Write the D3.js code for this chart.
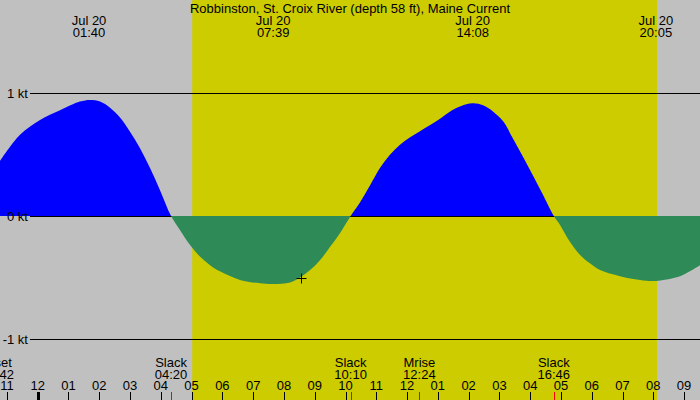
<!DOCTYPE html>
<html><head><meta charset="utf-8">
<script src="https://cdn.jsdelivr.net/npm/d3@7"></script>
<style>html,body{margin:0;padding:0;background:#c0c0c0;}svg{display:block;}</style>
</head><body>
<svg id="c" width="700" height="400"></svg>
<script>
const title = "Robbinston, St. Croix River (depth 58 ft), Maine Current";
// time in hours from Jul 20 00:00, current in knots
const times = [-1.225,-0.575,0.075,0.725,1.374,1.699,2.024,2.349,2.674,2.999,3.324,3.649,3.973,4.333,
  4.62,4.95,5.27,5.60,5.92,6.57,7.22,7.65,8.20,8.52,8.85,9.17,9.50,9.82,10.167,
  10.47,10.80,11.12,11.45,11.77,12.10,12.42,12.75,13.07,13.40,13.72,14.133,14.47,14.79,15.12,15.44,15.77,16.09,16.42,16.767,
  16.97,17.29,17.62,17.94,18.27,18.92,19.57,20.083,20.87,21.19,21.52];
const knots = [0.447,0.66,0.78,0.86,0.93,0.943,0.93,0.88,0.80,0.685,0.55,0.39,0.21,0,
  -0.114,-0.236,-0.33,-0.40,-0.45,-0.52,-0.547,-0.553,-0.54,-0.50,-0.44,-0.36,-0.25,-0.14,0,
  0.11,0.25,0.39,0.50,0.58,0.64,0.69,0.74,0.79,0.85,0.89,0.916,0.90,0.85,0.77,0.63,0.48,0.33,0.17,0,
  -0.073,-0.21,-0.317,-0.385,-0.44,-0.49,-0.52,-0.528,-0.49,-0.45,-0.40];
const yTicks = [1, 0, -1];
const yTickLabels = ["1 kt", "0 kt", "-1 kt"];
const topTimes = [1.667, 7.65, 14.133, 20.083];
const topLabels = [["Jul 20","01:40"],["Jul 20","07:39"],["Jul 20","14:08"],["Jul 20","20:05"]];
const eventTimes = [-1.3, 4.333, 10.167, 12.4, 16.767];
const eventLabels = [["Mset","22:42"],["Slack","04:20"],["Slack","10:10"],["Mrise","12:24"],["Slack","16:46"]];
const sunrise = 5.02, sunset = 20.12;
const hourTicks = d3.range(-1, 22);
const marker = {t: 8.55, v: -0.505};

const svg = d3.select("#c");
const W = 700, H = 400;
const x = d3.scaleLinear().domain([0, 20]).range([37.7, 653.3]);
const y = d3.scaleLinear().domain([-1, 1]).range([339, 93]);
const font = "'Liberation Sans', Arial, sans-serif";
const fs = 13;

svg.append("rect").attr("width", W).attr("height", H).attr("fill", "#c0c0c0");
svg.append("rect").attr("x", x(sunrise)).attr("y", 0).attr("width", x(sunset) - x(sunrise)).attr("height", H).attr("fill", "#cccc00");

const defs = svg.append("defs");
defs.append("clipPath").attr("id", "above").append("rect").attr("x", 0).attr("y", 0).attr("width", W).attr("height", y(0));
defs.append("clipPath").attr("id", "below").append("rect").attr("x", 0).attr("y", y(0)).attr("width", W).attr("height", H - y(0));

const data = times.map((t, i) => ({t, v: knots[i]}));
const area = d3.area().x(d => x(d.t)).y0(y(0)).y1(d => y(d.v)).curve(d3.curveCatmullRom.alpha(0.5));
svg.append("path").datum(data).attr("d", area).attr("fill", "#0000ff").attr("clip-path", "url(#above)");

// horizontal grid lines
yTicks.forEach((v, i) => {
  svg.append("line").attr("x1", 30).attr("x2", W).attr("y1", y(v)).attr("y2", y(v))
    .attr("stroke", "#000").attr("stroke-width", 1).attr("shape-rendering", "crispEdges");
  svg.append("text").attr("x", 28).attr("y", y(v) + 5).attr("text-anchor", "end")
    .attr("font-family", font).attr("font-size", fs).attr("fill", "#000").text(yTickLabels[i]);
});
svg.append("path").datum(data).attr("d", area).attr("fill", "#2e8b57").attr("clip-path", "url(#below)");

// marker
const mx = Math.round(x(marker.t)) + 0.5, my = Math.round(y(marker.v)) + 0.5;
svg.append("line").attr("x1", mx - 5).attr("x2", mx + 5).attr("y1", my).attr("y2", my).attr("stroke", "#000");
svg.append("line").attr("x1", mx).attr("x2", mx).attr("y1", my - 5).attr("y2", my + 5).attr("stroke", "#000");

// title
svg.append("text").attr("x", 350).attr("y", 13).attr("text-anchor", "middle")
  .attr("font-family", font).attr("font-size", fs).attr("fill", "#000").text(title);

// top labels
topTimes.forEach((t, i) => {
  topLabels[i].forEach((s, j) => {
    svg.append("text").attr("x", x(t)).attr("y", 25 + j * 11.5).attr("text-anchor", "middle")
      .attr("font-family", font).attr("font-size", fs).attr("fill", "#000").text(s);
  });
});

// hour ticks
hourTicks.forEach(h => {
  const hh = ((h % 12) + 12) % 12 || 12;
  const lab = String(hh).padStart(2, "0");
  svg.append("text").attr("x", x(h)).attr("y", 390).attr("text-anchor", "middle")
    .attr("font-family", font).attr("font-size", fs).attr("fill", "#000").text(lab);
  svg.append("line").attr("x1", Math.round(x(h)) + 0.5).attr("x2", Math.round(x(h)) + 0.5)
    .attr("y1", 392).attr("y2", 400).attr("stroke", "#000")
    .attr("stroke-width", h === 0 ? 3 : 1);
});

// events
eventTimes.forEach((t, i) => {
  eventLabels[i].forEach((s, j) => {
    svg.append("text").attr("x", x(t)).attr("y", 367 + j * 11.5).attr("text-anchor", "middle")
      .attr("font-family", font).attr("font-size", fs).attr("fill", "#000").text(s);
  });
  svg.append("line").attr("x1", Math.round(x(t)) + 0.5).attr("x2", Math.round(x(t)) + 0.5)
    .attr("y1", 392).attr("y2", 400).attr("stroke", "#ff0000");
});
</script>
</body></html>
